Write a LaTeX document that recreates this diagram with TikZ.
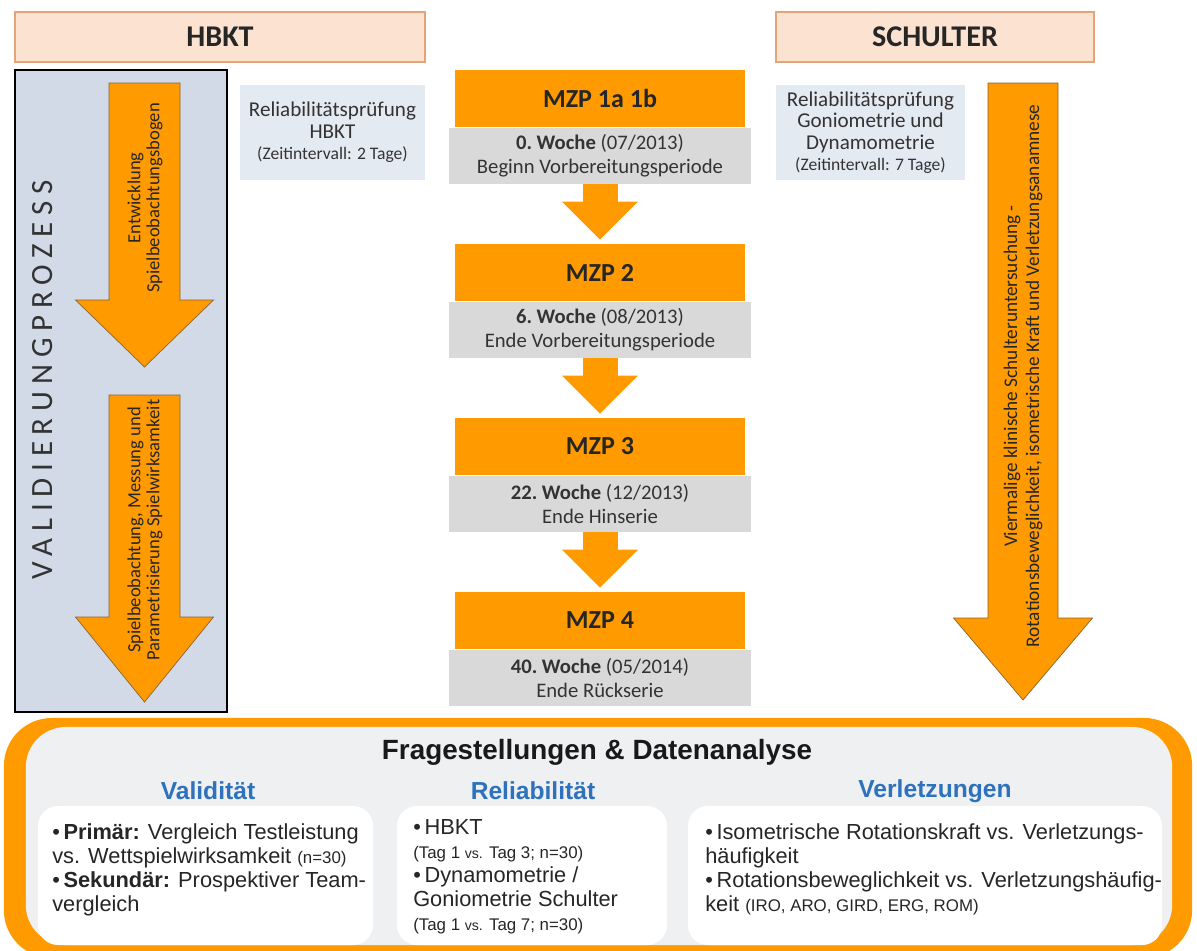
\documentclass[tikz,border=0pt]{standalone}
\usepackage{fontspec}
\setmainfont{Carlito}
\newfontfamily\arialfont{Liberation Sans}
\usetikzlibrary{arrows.meta, positioning}
\definecolor{mOrange}{HTML}{FF9A00}
\definecolor{mOrangeDark}{HTML}{8C6430}
\definecolor{mPeach}{HTML}{FCE2D0}
\definecolor{mPeachLine}{HTML}{E3A577}
\definecolor{mGrayBox}{HTML}{D9D9D9}
\definecolor{mPale}{HTML}{E4EAF2}
\definecolor{mSlate}{HTML}{D2DAE8}
\definecolor{mPanel}{HTML}{EFF0F2}
\definecolor{mBlue}{HTML}{2E72BE}
\newcommand{\blockdown}[6]{%
  \filldraw[fill=mOrange, draw=mOrangeDark, line width=0.5pt] ({#1-#2},#4) -- ({#1+#2},#4) -- ({#1+#2},#5) -- ({#1+#3},#5) -- (#1,#6) -- ({#1-#3},#5) -- ({#1-#2},#5) -- cycle;}
\newcommand{\qbul}{\textbullet\,}
\newcommand{\qsmall}{\fontsize{12}{17}\selectfont}
\newcommand{\qtiny}{\fontsize{10}{17}\selectfont}
\begin{document}
\begin{tikzpicture}[x=0.025cm, y=-0.025cm,
    header/.style={draw=mPeachLine, line width=1.2pt, fill=mPeach, minimum height=1.25cm, inner sep=0pt, text=black!85, font=\bfseries\fontsize{21.4}{24}\selectfont},
    mzp/.style={fill=mOrange, minimum width=7.25cm, minimum height=1.425cm, inner sep=0pt, text=black!85, font=\bfseries\fontsize{18.5}{22}\selectfont},
    week/.style={fill=mGrayBox, minimum width=7.55cm, minimum height=1.4cm, inner sep=0pt, align=center, text=black!80, font=\fontsize{14.7}{17}\selectfont},
    relbox/.style={fill=mPale, minimum height=2.375cm, inner sep=0pt, align=center, text=black!80, font=\fontsize{15}{15.3}\selectfont},
    flow/.style={draw=mOrange, line width=0.875cm, -{Triangle[width=1.9cm, length=0.95cm, line width=0pt]}, shorten >=0.1cm},
    arrowtext/.style={rotate=90, align=center, text=black!85},
    qhead/.style={font=\arialfont\bfseries\fontsize{17.5}{20}\selectfont, text=mBlue},
    qbox/.style={fill=white, rounded corners=0.5cm, minimum height=3.475cm, inner sep=0pt},
    qtext/.style={anchor=west, align=left, inner sep=0pt, text=black!85, font=\arialfont\fontsize{15.5}{17}\selectfont}]
  \useasboundingbox (0,0) rectangle (1197,950);

  % headers
  \node[header, minimum width=10.25cm] (hbkt) at (220,37) {HBKT};
  \node[header, minimum width=7.95cm] (schulter) at (935,37) {SCHULTER};

  % validation column
  \node[draw=black, line width=1.4pt, fill=mSlate, minimum width=5.3cm, minimum height=16.05cm, inner sep=0pt] (valproc) at (121,391) {};
  \node[rotate=90, text=black!80, font=\fontsize{22}{22}\selectfont\addfontfeature{LetterSpace=22}] (valtitle) at (43,380) {VALIDIERUNGPROZESS};
  \blockdown{144.5}{35.5}{69}{83}{300}{367}
  \blockdown{144.5}{35.5}{69}{395}{617}{702}
  \node[arrowtext, font=\fontsize{13.2}{13.6}\selectfont] (devtxt) at (145,198) {Entwicklung\\Spielbeobachtungsbogen};
  \node[arrowtext, font=\fontsize{13.2}{13.6}\selectfont] (obstxt) at (145,530) {Spielbeobachtung, Messung und\\Parametrisierung Spielwirksamkeit};

  % shoulder column
  \blockdown{1023}{35}{69.5}{83}{618}{700}
  \node[arrowtext, font=\fontsize{13.7}{15.6}\selectfont] (shtxt) at (1023,376) {Viermalige klinische Schulteruntersuchung -\\Rotationsbeweglichkeit, isometrische Kraft und Verletzungsanamnese};

  % reliability
  \node[relbox, minimum width=4.625cm] (relhbkt) at (332.5,132.5) {Reliabilitätsprüfung\\HBKT\\{\fontsize{12.5}{15.3}\selectfont (Zeitintervall: 2 Tage)}};
  \node[relbox, minimum width=4.725cm] (relschulter) at (870.5,132.5) {Reliabilitätsprüfung\\Goniometrie und\\Dynamometrie\\{\fontsize{12.5}{15.3}\selectfont (Zeitintervall: 7 Tage)}};

  % measurement points
  \foreach \lbl/\wk/\dt/\ph [count=\i] in {1a 1b/0./{(07/2013)}/Beginn Vorbereitungsperiode, 2/6./{(08/2013)}/Ende Vorbereitungsperiode, 3/22./{(12/2013)}/Ende Hinserie, 4/40./{(05/2014)}/Ende Rückserie} {
    \node[mzp] (m\i) at (600,{98.5+174*(\i-1)}) {MZP \lbl};
    \node[week, below=0pt of m\i] (g\i) {\textbf{\wk~Woche} \dt\\\ph};
  }
  \foreach \a/\b in {1/2,2/3,3/4}
    \draw[flow] (g\a.south) -- (m\b.north);

  % questions and analysis
  \node[fill=mOrange, rounded corners=1.2cm, minimum width=29.7cm, minimum height=6cm, inner sep=0pt] (qframe) at (598,838) {};
  \node[fill=mPanel, rounded corners=1cm, minimum width=28.65cm, minimum height=5.45cm, inner sep=0pt] (qpanel) at (599,836) {};
  \node[text=black!90, font=\arialfont\bfseries\fontsize{19.8}{22}\selectfont] (qtitle) at (597,752) {Fragestellungen \& Datenanalyse};
  \node[qhead] (valhead) at (208,791) {Validität};
  \node[qhead] (relhead) at (533,791) {Reliabilität};
  \node[qhead] (verhead) at (935,791) {Verletzungen};
  \node[qbox, minimum width=8.375cm] (valbox) at (205.5,875.5) {};
  \node[qbox, minimum width=6.75cm] (relqbox) at (532,875.5) {};
  \node[qbox, minimum width=11.85cm] (verbox) at (925,875.5) {};
  \node[qtext] (valtxt) at (52,869.5) {\qbul\textbf{Primär:} Vergleich Testleistung\\vs. Wettspielwirksamkeit {\qsmall(n=30)}\\\qbul\textbf{Sekundär:} Prospektiver Team-\\vergleich};
  \node[qtext] (reltxt) at (413,877) {\qbul HBKT\\{\qsmall(Tag 1 {\qtiny vs.} Tag 3; n=30)}\\\qbul Dynamometrie /\\Goniometrie Schulter\\{\qsmall(Tag 1 {\qtiny vs.} Tag 7; n=30)}};
  \node[qtext] (vertxt) at (705,869.5) {\qbul Isometrische Rotationskraft vs. Verletzungs-\\häufigkeit\\\qbul Rotationsbeweglichkeit vs. Verletzungshäufig-\\keit {\qsmall(IRO, ARO, GIRD, ERG, ROM)}};
\end{tikzpicture}
\end{document}
